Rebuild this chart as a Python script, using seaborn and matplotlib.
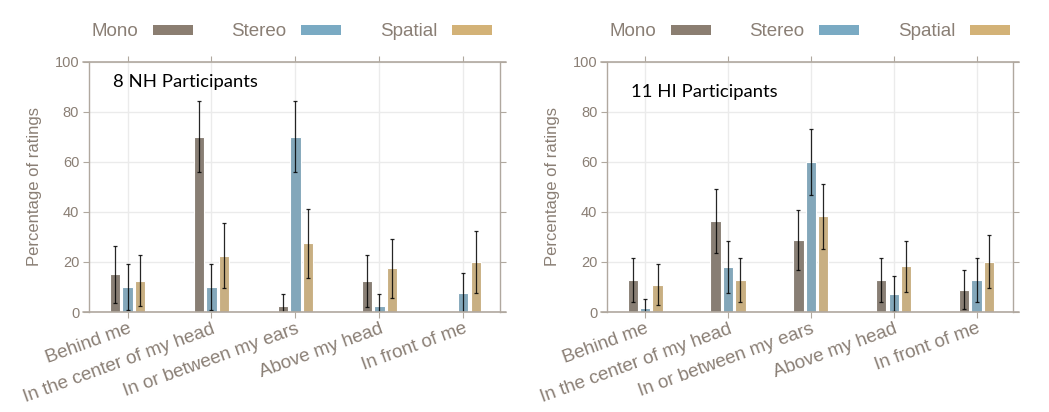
import pandas as pd
import matplotlib
matplotlib.use('Agg')
import matplotlib.pyplot as plt
import seaborn as sns
from matplotlib.patches import Patch

# categories and conditions
locations = ['Behind me', 'In the center of my head', 'In or between my ears',
             'Above my head', 'In front of me']
conditions = ['Mono', 'Stereo', 'Spatial']
colors = ['#8b7e71', '#7aaac3', '#d3b277']

# 8 NH participants (percent of ratings, +/- error)
nh_mono = [15, 70, 2.5, 12.5, 0]
nh_mono_err = [11.3, 14.2, 4.8, 10.3, 0]
nh_stereo = [10, 10, 70, 2.5, 7.5]
nh_stereo_err = [9.3, 9.3, 14.2, 4.8, 8.1]
nh_spatial = [12.5, 22.5, 27.5, 17.5, 20]
nh_spatial_err = [10.2, 13.1, 13.8, 11.8, 12.5]

# 11 HI participants
hi_mono = [12.8, 36.4, 28.9, 12.8, 9.0]
hi_mono_err = [8.9, 12.7, 12.0, 8.9, 7.6]
hi_stereo = [1.6, 18.1, 60, 7.3, 12.8]
hi_stereo_err = [3.6, 10.3, 13.1, 6.9, 8.9]
hi_spatial = [10.9, 12.8, 38.3, 18.2, 20]
hi_spatial_err = [8.2, 8.9, 13.0, 10.3, 10.6]

sns.set_style('white')
plt.rcParams['font.family'] = ['Liberation Sans', 'DejaVu Sans']

txt = '#8a7f75'
spine = '#b0a89f'


def make_df(mono, stereo, spatial):
    rows = []
    for cond, vals in zip(conditions, [mono, stereo, spatial]):
        for loc, v in zip(locations, vals):
            rows.append({'location': loc, 'condition': cond, 'pct': v})
    return pd.DataFrame(rows)


def draw(ax, df, errs, title, title_y):
    sns.barplot(data=df, x='location', y='pct', hue='condition',
                hue_order=conditions, palette=colors, width=0.45, gap=0.17,
                errorbar=None, edgecolor='white', linewidth=0.8,
                legend=False, ax=ax, zorder=2)
    for cont, err in zip(ax.containers, errs):
        for bar, e in zip(cont, err):
            if e == 0:
                continue
            x = bar.get_x() + bar.get_width() / 2
            ax.errorbar(x, bar.get_height(), yerr=e, color='black', lw=0.9,
                        capsize=1.6, capthick=0.9, alpha=0.85, zorder=3)
    ax.set_xlim(-0.46, 4.44)
    ax.set_ylim(0, 100)
    ax.set_yticks([0, 20, 40, 60, 80, 100])
    ax.set_xlabel('')
    ax.set_ylabel('Percentage of ratings', color=txt, fontsize=12, labelpad=9)
    ax.grid(True, color='#ebebeb', lw=1, zorder=0)
    ax.set_axisbelow(True)
    for s in ax.spines.values():
        s.set_color(spine)
        s.set_linewidth(1)
    ax.spines['top'].set_visible(False)
    ax.spines['bottom'].set_visible(False)
    for yy in (0, 1):
        ax.plot([-0.015, 1.015], [yy, yy], transform=ax.transAxes,
                color=spine, lw=1.2, clip_on=False, zorder=4)
    ax.tick_params(axis='both', direction='out', length=4, color=spine,
                   top=True, right=True, bottom=True, left=True,
                   labeltop=False, labelright=False)
    ax.tick_params(axis='y', labelsize=10.5, labelcolor=txt, pad=3)
    ax.tick_params(axis='x', labelsize=13.5, labelcolor=txt, pad=2)
    for lab in ax.get_xticklabels():
        lab.set_rotation(20)
        lab.set_ha('right')
        lab.set_rotation_mode('anchor')
    ax.text(0.058, title_y, title, transform=ax.transAxes, fontsize=13.3,
            color='black', va='center', family=['Lato', 'DejaVu Sans'])
    handles = [Patch(facecolor=c, edgecolor='none') for c in colors]
    leg = ax.legend(handles, conditions, ncol=3, loc='center left',
                    bbox_to_anchor=(0.005, 1.12), frameon=False,
                    markerfirst=False, fontsize=13.5, handlelength=2.13,
                    handleheight=0.43, handletextpad=0.8, columnspacing=2.05,
                    borderpad=0, borderaxespad=0)
    for t in leg.get_texts():
        t.set_color(txt)


fig = plt.figure(figsize=(10.49, 4.12), dpi=100)
ax1 = fig.add_axes([0.0848, 0.2427, 0.392, 0.607])
ax2 = fig.add_axes([0.5787, 0.2427, 0.387, 0.607])

draw(ax1, make_df(nh_mono, nh_stereo, nh_spatial),
     [nh_mono_err, nh_stereo_err, nh_spatial_err], '8 NH Participants', 0.92)
draw(ax2, make_df(hi_mono, hi_stereo, hi_spatial),
     [hi_mono_err, hi_stereo_err, hi_spatial_err], '11 HI Participants', 0.88)

fig.savefig('out.png', dpi=100)
